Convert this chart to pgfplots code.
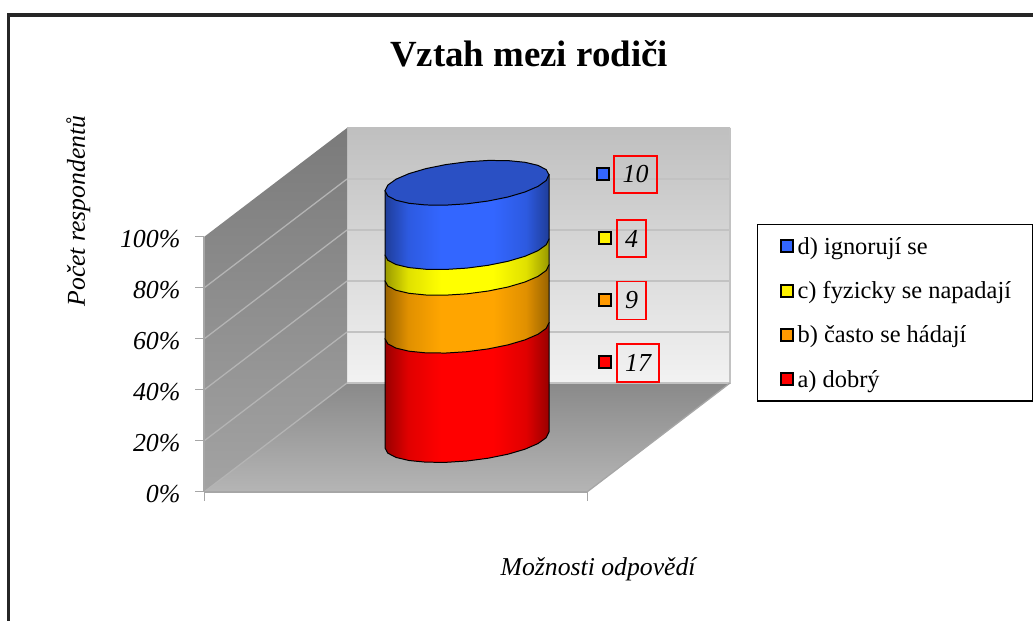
\documentclass[border=0pt]{standalone}
\usepackage{pgfplots}
\usepackage{pgfplotstable}
\usepackage{fontspec}
\setmainfont{Liberation Serif}
\pgfplotsset{compat=1.18}
\definecolor{gridc}{HTML}{C2C2C2}
\definecolor{gridl}{HTML}{B4B4B4}
\definecolor{edgec}{HTML}{A6A6A6}
\newcommand\cylshade[4]{\pgfdeclarehorizontalshading{#1}{100bp}{color(0bp)=(#2); color(25bp)=(#2); color(32bp)=(#3); color(42bp)=(#4); color(58bp)=(#4); color(68bp)=(#3); color(75bp)=(#2); color(100bp)=(#2)}}
\definecolor{rA}{HTML}{990000}\definecolor{rB}{HTML}{E00000}\definecolor{rC}{HTML}{FF0000}
\definecolor{oA}{HTML}{996300}\definecolor{oB}{HTML}{E09000}\definecolor{oC}{HTML}{FFA500}
\definecolor{yA}{HTML}{999900}\definecolor{yB}{HTML}{E0E000}\definecolor{yC}{HTML}{FFFF00}
\definecolor{bA}{HTML}{1F3D99}\definecolor{bB}{HTML}{2D5AE0}\definecolor{bC}{HTML}{3366FF}
\definecolor{capb}{HTML}{2A50C4}
\cylshade{cylr}{rA}{rB}{rC}
\cylshade{cylo}{oA}{oB}{oC}
\cylshade{cyly}{yA}{yB}{yC}
\cylshade{cylb}{bA}{bB}{bC}
% front arc of the cylinder, then the two upper corners (h=1)
\pgfplotstableread{
dx dy h
-82 8 0
-79.2 13.17 0
-71 17.43 0
-58 20.51 0
-41 22.19 0
-21.2 22.35 0
0 21 0
21.2 18.21 0
41 14.19 0
58 9.19 0
71 3.57 0
79.2 -2.29 0
82 -8 0
82 -8 1
-82 8 1
}\arcT
\pgfplotstableread{
dx dy
-82 8
-79.2 13.17
-71 17.43
-58 20.51
-41 22.19
-21.2 22.35
0 21
21.2 18.21
41 14.19
58 9.19
71 3.57
79.2 -2.29
82 -8
79.2 -13.17
71 -17.43
58 -20.51
41 -22.19
21.2 -22.35
0 -21
-21.2 -18.21
-41 -14.19
-58 -9.19
-71 -3.57
-79.2 2.29
}\capT
\newcommand\band[3]{\addplot[forget plot,shading=#1,draw=black,line width=1pt] table[x expr=467+\thisrow{dx},y expr=440+\thisrow{dy}-6.43*(#2+\thisrow{h}*#3)]{\arcT} -- cycle;}
\newcommand\lab[5]{\node[draw=red,line width=1.8pt,minimum width=#3bp,minimum height=#4bp,inner sep=0pt,font=\fontsize{26}{28}\selectfont\itshape] at (axis cs:#1,#2) {#5};}
\newcommand\keyimg[1]{\addlegendimage{only marks,mark=square*,mark size=6bp,mark options={fill=#1,draw=black,line width=2pt}}}
\newcommand\lent[1]{\hspace*{3bp}#1\hspace*{-3bp}}
\definecolor{kb}{HTML}{3366FF}\definecolor{ko}{HTML}{FF9900}
\begin{document}
\begin{tikzpicture}[x=1bp,y=1bp]
\useasboundingbox (0,0) rectangle (1033,621);
\begin{axis}[at={(0,0)},anchor=south west,scale only axis,width=1033bp,height=621bp,
  xmin=0,xmax=1033,ymin=0,ymax=621,y dir=reverse,hide axis,clip=false,
  legend style={at={(axis cs:757,224)},anchor=north west,draw=black,line width=1.2pt,
    font=\fontsize{24.5}{26}\selectfont,inner xsep=23bp,inner ysep=10.5bp,row sep=21.8bp},
  legend cell align=left]
% frame
\addplot[forget plot,color=black!85,line width=3.2pt] coordinates {(8.5,621)(8.5,15)(1033,15)};
% back wall
\addplot[forget plot,top color=black!25,bottom color=black!5,draw=none] coordinates {(347,128)(730,128)(730,383)(347,383)} -- cycle;
% left wall
\addplot[forget plot,top color=black!52,bottom color=black!36,draw=none] coordinates {(347,128)(347,383)(204,492)(204,237)} -- cycle;
% floor
\addplot[forget plot,top color=black!46,bottom color=black!29,draw=none] coordinates {(347,383)(730,383)(587,492)(204,492)} -- cycle;
% gridlines
\addplot[forget plot,gridl,line width=1.3pt] coordinates {(204,441)(347,332)};
\addplot[forget plot,gridl,line width=1.3pt] coordinates {(204,390)(347,281)};
\addplot[forget plot,gridl,line width=1.3pt] coordinates {(204,339)(347,230)};
\addplot[forget plot,gridl,line width=1.3pt] coordinates {(204,288)(347,179)};
\addplot[forget plot,gridl,line width=1.3pt] coordinates {(204,492)(347,383)};
\addplot[forget plot,gridc,line width=1.3pt] coordinates {(347,332)(730,332)};
\addplot[forget plot,gridc,line width=1.3pt] coordinates {(347,281)(730,281)};
\addplot[forget plot,gridc,line width=1.3pt] coordinates {(347,230)(730,230)};
\addplot[forget plot,gridc,line width=1.3pt] coordinates {(347,179)(730,179)};
\addplot[forget plot,gridc,line width=1.3pt] coordinates {(347,383)(730,383)(730,128)};
\addplot[forget plot,edgec,line width=1.3pt] coordinates {(730,383)(587,492)};
% stacked cylinder: counts 17, 9, 4, 10 of 40
\band{cylr}{0}{17}
\band{cylo}{17}{9}
\band{cyly}{26}{4}
\band{cylb}{30}{10}
\addplot[forget plot,fill=capb,draw=black,line width=1pt] table[x expr=467+\thisrow{dx},y expr=440+\thisrow{dy}-6.43*40]{\capT} -- cycle;
% value keys
\addplot[forget plot,only marks,mark=square*,mark size=6bp,mark options={fill=kb,draw=black,line width=2pt}] coordinates {(603,174)};
\addplot[forget plot,only marks,mark=square*,mark size=6bp,mark options={fill=yellow,draw=black,line width=2pt}] coordinates {(605,238)};
\addplot[forget plot,only marks,mark=square*,mark size=6bp,mark options={fill=ko,draw=black,line width=2pt}] coordinates {(605,300)};
\addplot[forget plot,only marks,mark=square*,mark size=6bp,mark options={fill=red,draw=black,line width=2pt}] coordinates {(605,362)};
\lab{635.5}{174.5}{43}{37}{10}
\lab{631.5}{238.5}{29}{37}{4}
\lab{631.5}{300.5}{29}{38}{9}
\lab{638}{363}{42}{38}{17}
\node[font=\fontsize{37}{42}\selectfont\bfseries] at (axis cs:529,54) {Vztah mezi rodiči};
\keyimg{kb}\addlegendentry{\lent{d) ignorují se}}
\keyimg{yellow}\addlegendentry{\lent{c) fyzicky se napadají}}
\keyimg{ko}\addlegendentry{\lent{b) často se hádají}}
\keyimg{red}\addlegendentry{\lent{a) dobrý}}
\end{axis}
\begin{axis}[at={(204bp,129bp)},anchor=south west,scale only axis,width=383bp,height=255bp,
  xmin=0,xmax=1,ymin=0,ymax=100,clip=false,
  axis x line*=bottom,axis y line*=left,
  axis line style={edgec,line width=1.5pt,-},
  xtick={0,1},xticklabels={},
  ytick={0,20,40,60,80,100},yticklabels={0\%,20\%,40\%,60\%,80\%,100\%},
  tick align=outside,major tick length=9bp,
  tick style={edgec,line width=1pt},
  yticklabel style={font=\fontsize{26}{28}\selectfont\itshape,xshift=-11bp,yshift=-2bp},
  xlabel={Možnosti odpovědí},ylabel={Počet respondentů},
  every axis x label/.style={at={(axis description cs:1.029,-0.303)},anchor=center,font=\fontsize{25.8}{28}\selectfont\itshape},
  every axis y label/.style={at={(axis description cs:-0.328,1.102)},anchor=center,rotate=90,font=\fontsize{25.8}{28}\selectfont\itshape}]
\addplot[draw=none] coordinates {(0,0)(1,100)};
\end{axis}
\end{tikzpicture}
\end{document}
